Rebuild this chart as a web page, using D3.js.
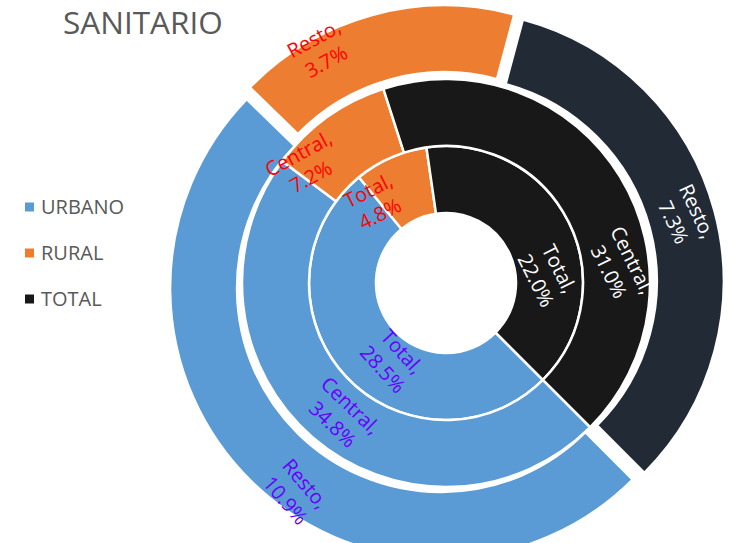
<!DOCTYPE html>
<html>
<head>
<meta charset="utf-8">
<script src="https://cdn.jsdelivr.net/npm/d3@7"></script>
<style>
  body { margin: 0; background: #fff; }
  svg text { font-family: "Open Sans", "Noto Sans", sans-serif; }
</style>
</head>
<body>
<div id="chart"></div>
<script>
// rings from inside out, one value per series
var rings = ["Total", "Central", "Resto"];
var series = ["URBANO", "RURAL", "TOTAL"];
var urbano = [28.5, 34.8, 10.9];
var rural = [4.8, 7.2, 3.7];
var total = [22.0, 31.0, 7.3];

var width = 731;
var height = 543;

var cx = 446;
var cy = 283;
var hole = 70;
var ringWidth = 67;
var explode = 7; // only the outer ring is pulled apart

var fills = ["#5B9BD5", "#ED7D31", "#181818"];
var outerFills = ["#5B9BD5", "#ED7D31", "#222A35"];
var labelColors = ["#6600FF", "#FF0000", "#FFFFFF"];

// hand nudges [dx, dy, extra rotation] - the original labels were dragged around
var labelNudge = [
  [[23, 8, 0], [-30, 14, -3], [9, 38, 0]],
  [[7, 3, 3], [-42, 21, 7], [29, 72, 5]],
  [[21, 35, 5], [-61, 3, -13], [3, -3, -10]]
];

var svg = d3
  .select("#chart")
  .append("svg")
  .attr("width", width)
  .attr("height", height);

svg
  .append("text")
  .attr("x", 63)
  .attr("y", 34)
  .attr("fill", "#595959")
  .style("font-size", "31.5px")
  .text("SANITARIO");

var legend = svg
  .selectAll("g.legendEntry")
  .data(series)
  .enter()
  .append("g")
  .attr("class", "legendEntry")
  .attr("transform", function (d, i) {
    return "translate(25," + (207 + i * 46) + ")";
  });

legend
  .append("rect")
  .attr("x", 0)
  .attr("y", -4.5)
  .attr("width", 9)
  .attr("height", 9)
  .attr("fill", function (d, i) {
    return fills[i];
  });

legend
  .append("text")
  .attr("x", 16)
  .attr("y", 0)
  .attr("dy", "0.36em")
  .attr("fill", "#595959")
  .style("font-size", "20px")
  .text(function (d) {
    return d;
  });

var pie = d3
  .pie()
  .sort(null)
  .startAngle((135 * Math.PI) / 180)
  .endAngle((495 * Math.PI) / 180);

var g = svg.append("g").attr("transform", "translate(" + cx + "," + cy + ")");
var arcLayer = g.append("g");
var labelLayer = g.append("g");

rings.forEach(function (ring, r) {
  var values = [urbano[r], rural[r], total[r]];
  var inner = hole + r * ringWidth;
  var outer = inner + ringWidth;
  var off = r == rings.length - 1 ? explode : 0;
  var arc = d3.arc().innerRadius(inner).outerRadius(outer);
  var arcs = pie(values);

  function shift(d) {
    var a = (d.startAngle + d.endAngle) / 2;
    return [off * Math.sin(a), -off * Math.cos(a)];
  }

  arcLayer
    .append("g")
    .attr("class", "ring")
    .selectAll("path")
    .data(arcs)
    .join("path")
    .attr("transform", function (d) {
      var s = shift(d);
      return "translate(" + s[0] + "," + s[1] + ")";
    })
    .attr("d", arc)
    .attr("fill", function (d, i) {
      return off ? outerFills[i] : fills[i];
    })
    .attr("stroke", "#fff")
    .attr("stroke-width", 2.5);

  labelLayer
    .append("g")
    .selectAll("text")
    .data(arcs)
    .join("text")
    .attr("transform", function (d, i) {
      var c = arc.centroid(d);
      var s = shift(d);
      var n = labelNudge[r][i];
      var deg = (((d.startAngle + d.endAngle) / 2) * 180) / Math.PI;
      deg = deg % 360;
      if (deg > 90 && deg < 270) deg -= 180;
      return (
        "translate(" + (c[0] + s[0] + n[0]) + "," + (c[1] + s[1] + n[1]) + ") rotate(" + (deg + n[2]) + ")"
      );
    })
    .attr("text-anchor", "middle")
    .attr("fill", function (d, i) {
      return labelColors[i];
    })
    .style("font-size", "20px")
    .selectAll("tspan")
    .data(function (d) {
      return [ring + ",", d3.format(".1f")(d.data) + "%"];
    })
    .join("tspan")
    .attr("x", 0)
    .attr("dy", function (d, i) {
      return i == 0 ? "-0.3em" : "1.3em";
    })
    .text(function (d) {
      return d;
    });
});
</script>
</body>
</html>
